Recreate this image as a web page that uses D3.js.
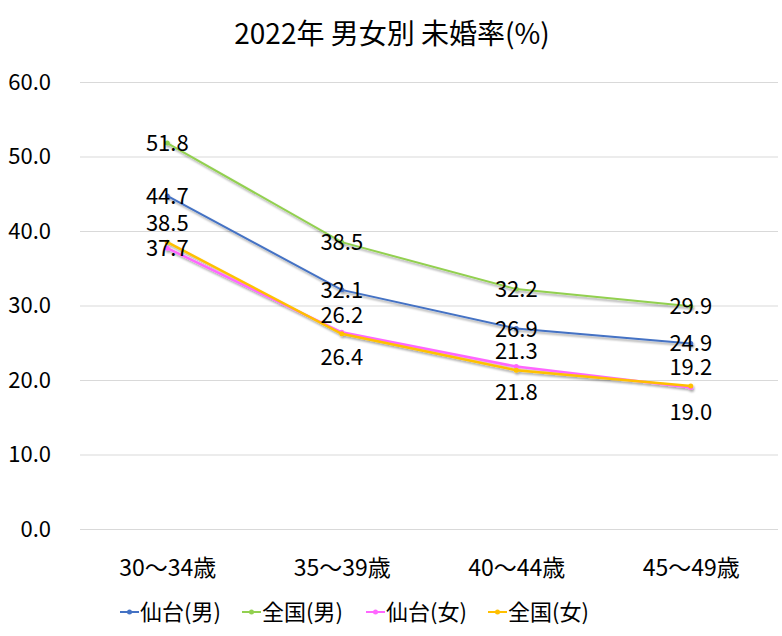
<!DOCTYPE html>
<html>
<head>
<meta charset="utf-8">
<script src="https://cdn.jsdelivr.net/npm/d3@7"></script>
<style>
  body { margin: 0; background: #fff; }
  text { font-family: "Noto Sans CJK JP", "Noto Sans", sans-serif; fill: #000; }
</style>
</head>
<body>
<div id="chart"></div>
<script>
// data
const categories = ["30～34歳", "35～39歳", "40～44歳", "45～49歳"];
const seriesNames = ["仙台(男)", "全国(男)", "仙台(女)", "全国(女)"];
const sendaiMale = [44.7, 32.1, 26.9, 24.9];
const nationMale = [51.8, 38.5, 32.2, 29.9];
const sendaiFemale = [37.7, 26.4, 21.8, 19.0];
const nationFemale = [38.5, 26.2, 21.3, 19.2];
const yTicks = [0, 10, 20, 30, 40, 50, 60];

const colors = ["#4472c4", "#92d050", "#ff66ff", "#ffc000"];
// label placement per series: 0 = centred, -1 = above, 1 = below
const labelPos = [[0, 0, 0, 0], [0, 0, 0, 0], [0, 1, 1, 1], [-1, -1, -1, -1]];

const series = [sendaiMale, nationMale, sendaiFemale, nationFemale].map((v, i) => ({
  name: seriesNames[i], values: v, color: colors[i], pos: labelPos[i]
}));

const W = 782, H = 636;
const margin = {top: 82, right: 4, bottom: 107, left: 80};

const svg = d3.select("#chart").append("svg")
    .attr("width", W)
    .attr("height", H);

const defs = svg.append("defs");
const f = defs.append("filter").attr("id", "shadow")
    .attr("x", "-10%").attr("y", "-10%").attr("width", "120%").attr("height", "130%");
f.append("feDropShadow").attr("dx", 1).attr("dy", 2).attr("stdDeviation", 1.2)
    .attr("flood-color", "#000").attr("flood-opacity", 0.35);

const x = d3.scalePoint()
    .domain(categories)
    .range([margin.left, W - margin.right])
    .padding(0.5);

const y = d3.scaleLinear()
    .domain([0, 60])
    .range([H - margin.bottom, margin.top]);

// title
svg.append("text")
  .attr("x", 392).attr("y", 44)
  .attr("text-anchor", "middle")
  .style("font-size", "28px")
  .text("2022年 男女別 未婚率(%)");

// gridlines + y labels
const yAxis = d3.axisLeft(y).tickValues(yTicks)
    .tickSize(-(W - margin.left - margin.right))
    .tickFormat(d3.format(".1f"));
const gy = svg.append("g")
    .attr("transform", "translate(" + margin.left + ",0)")
    .call(yAxis);
gy.select(".domain").remove();
gy.selectAll(".tick line").attr("stroke", "#d9d9d9").attr("stroke-width", 1);
gy.selectAll(".tick text")
  .attr("x", -29)
  .style("font-size", "22px")
  .attr("fill", "#000");

// x labels
const gx = svg.append("g")
    .attr("transform", "translate(0," + (H - margin.bottom) + ")")
    .call(d3.axisBottom(x).tickSize(0));
gx.select(".domain").remove();
gx.selectAll(".tick text")
  .attr("dy", 0).attr("y", 47)
  .style("font-size", "23px")
  .attr("fill", "#000");

const line = d3.line()
    .x((d, i) => x(categories[i]))
    .y(d => y(d));

const gl = svg.append("g").attr("filter", "url(#shadow)");
series.forEach((s, si) => {
  gl.append("path")
    .datum(s.values)
    .attr("fill", "none")
    .attr("stroke", s.color)
    .attr("stroke-width", si >= 2 ? 2.5 : 2)
    .attr("d", line);
  gl.selectAll(".pt" + si)
    .data(s.values)
    .join("circle")
    .attr("cx", (d, i) => x(categories[i]))
    .attr("cy", d => y(d))
    .attr("r", 2.5)
    .attr("fill", s.color);
});

// data labels
series.forEach((s, si) => {
  svg.selectAll(".lb" + si)
    .data(s.values)
    .join("text")
    .attr("x", (d, i) => x(categories[i]))
    .attr("y", (d, i) => {
      const p = (si === 2 && i === 0) ? 0 : s.pos[i];
      return y(d) + 8 + (p < 0 ? -19 : p > 0 ? 25 : 0);
    })
    .attr("text-anchor", "middle")
    .style("font-size", "22px")
    .text(d => d.toFixed(1));
});

// legend
const legendX = [120, 242, 366, 488];
const lg = svg.append("g").attr("transform", "translate(0,612)");
series.forEach((s, i) => {
  const g = lg.append("g").attr("transform", "translate(" + legendX[i] + ",0)");
  g.append("line").attr("x1", 0).attr("x2", 19).attr("y1", 0).attr("y2", 0)
    .attr("stroke", s.color).attr("stroke-width", 2);
  g.append("circle").attr("cx", 9.5).attr("cy", 0).attr("r", 2.5).attr("fill", s.color);
  g.append("text").attr("x", 20).attr("y", 8)
    .style("font-size", "22px")
    .text(s.name);
});
</script>
</body>
</html>
